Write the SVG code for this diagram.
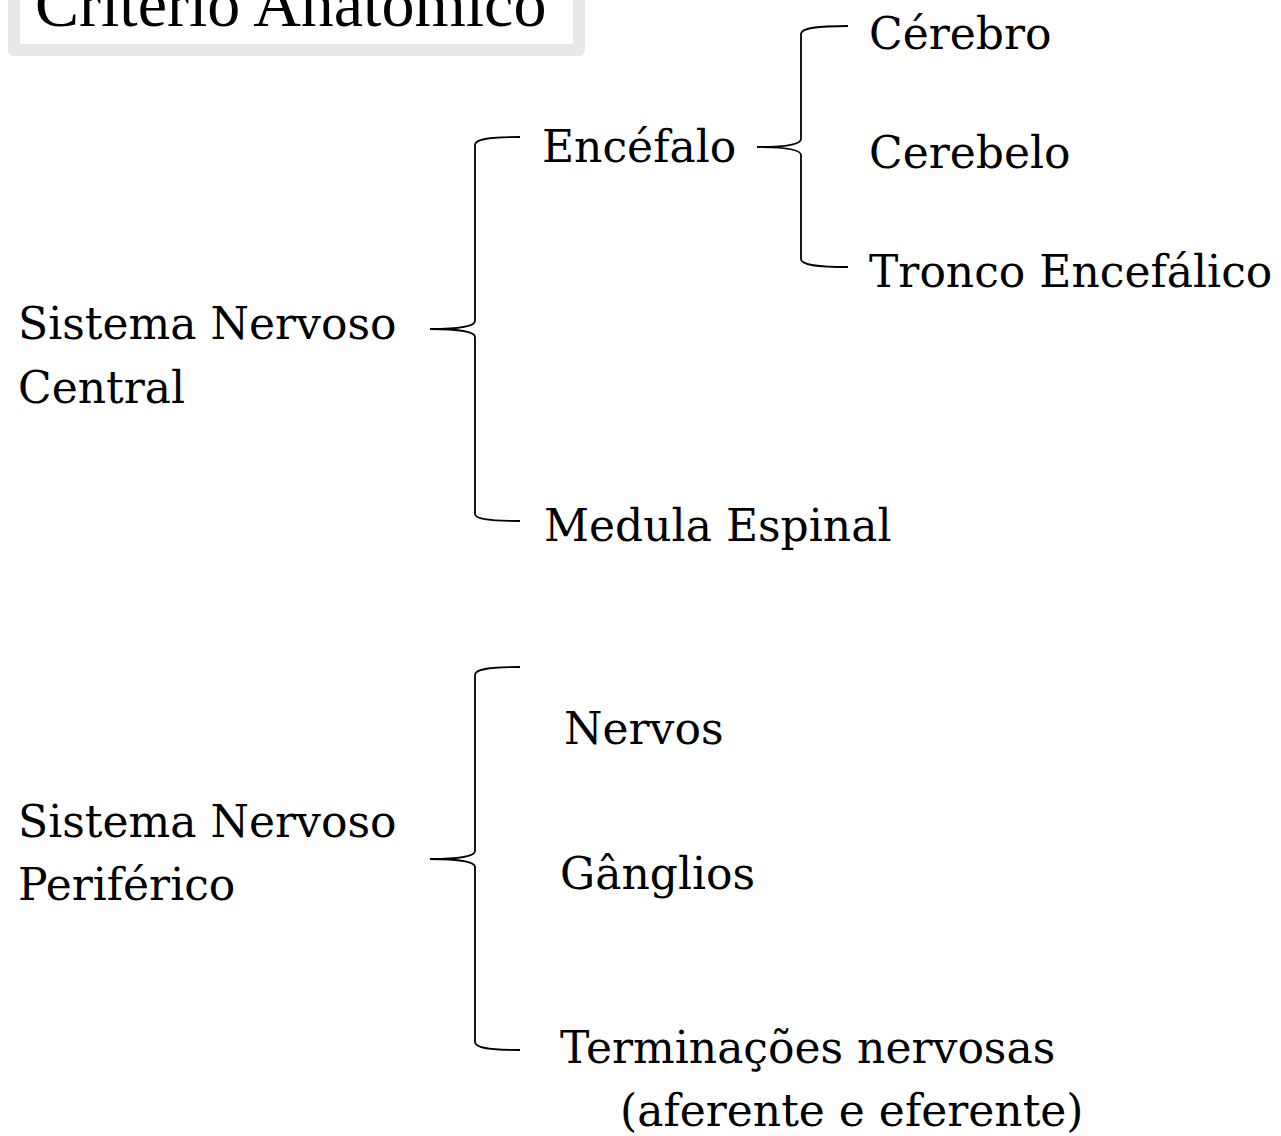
<svg xmlns="http://www.w3.org/2000/svg" width="1281" height="1136" viewBox="0 0 1281 1136">
<style>
.t{font-family:"DejaVu Serif","Liberation Serif",serif;font-size:44px;fill:#000}
.title{font-family:"Liberation Serif","Times New Roman",serif;font-size:66px;fill:#000}
.br{fill:none;stroke:#000;stroke-width:1.8}
</style>
<rect width="1281" height="1136" fill="#fff"/>
<g id="title">
<rect x="14" y="-40" width="565" height="90" fill="#fff" stroke="#e8e8e8" stroke-width="12" stroke-linejoin="round"/>
<text class="title" x="35" y="26">Critério Anatômico</text>
</g>
<g id="connectors">
<path class="br" d="M520,137 C490,137 475,139 475,145 L475,321 C475,326 460,329 430,329 C460,329 475,332 475,337 L475,514 C475,519 490,521 520,521"/>
<path class="br" d="M848,26 C817,26 801,28 801,34 L801,139 C801,144 787,147 757,147 C787,147 801,150 801,155 L801,259 C801,265 817,267 848,267"/>
<path class="br" d="M520,667 C490,667 475,669 475,675 L475,851 C475,856 460,859 430,859 C460,859 475,862 475,867 L475,1042 C475,1048 490,1050 520,1050"/>
</g>
<g id="snc"><text class="t" x="18" y="339">Sistema Nervoso</text><text class="t" x="18" y="403">Central</text></g>
<g id="encefalo"><text class="t" x="542" y="162">Encéfalo</text></g>
<g id="cerebro"><text class="t" x="869" y="49">Cérebro</text></g>
<g id="cerebelo"><text class="t" x="869" y="168">Cerebelo</text></g>
<g id="tronco"><text class="t" x="869" y="287">Tronco Encefálico</text></g>
<g id="medula"><text class="t" x="544" y="541">Medula Espinal</text></g>
<g id="snp"><text class="t" x="18" y="837">Sistema Nervoso</text><text class="t" x="18" y="900">Periférico</text></g>
<g id="nervos"><text class="t" x="564" y="744">Nervos</text></g>
<g id="ganglios"><text class="t" x="560" y="889">Gânglios</text></g>
<g id="terminacoes"><text class="t" x="560" y="1063">Terminações nervosas</text><text class="t" x="620" y="1126">(aferente e eferente)</text></g>
</svg>
